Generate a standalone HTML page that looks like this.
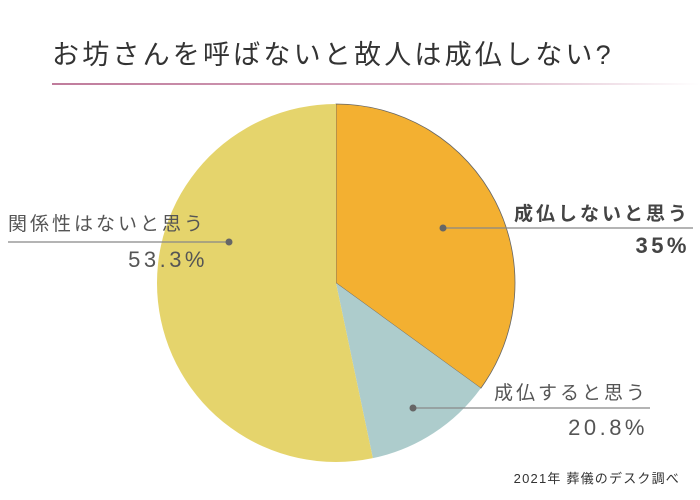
<!DOCTYPE html>
<html><head><meta charset="utf-8">
<style>
body{margin:0;background:#fff;}
svg{display:block;font-family:"Liberation Sans","Noto Sans CJK JP",sans-serif;}
</style></head>
<body>
<svg id="chart" width="700" height="500" viewBox="0 0 700 500">
<defs><linearGradient id="rule" x1="0" x2="1"><stop offset="0" stop-color="#c07c9c"/><stop offset="0.6" stop-color="#d6a8be"/><stop offset="1" stop-color="#fff"/></linearGradient></defs>
<text x="52" y="64" font-size="27" letter-spacing="3.2" fill="#333">お坊さんを呼ばないと故人は成仏しない?</text>
<rect x="52" y="83" width="648" height="2" fill="url(#rule)"/>
<g id="slices"></g>
<g id="labels"></g>
<text x="680" y="483" font-size="13" letter-spacing="1.2" fill="#333" text-anchor="end">2021年 葬儀のデスク調べ</text>
</svg>
<script>
const categories = ["成仏しないと思う", "成仏すると思う", "関係性はないと思う"];
const values = [35, 11.7, 53.3];
const valueLabels = ["35%", "20.8%", "53.3%"];
const colors = ["#f3b031", "#adcccc", "#e5d46c"];
const cx = 336, cy = 283, r = 179;
const NS = "http://www.w3.org/2000/svg";
const total = values.reduce((a,b)=>a+b,0);
function pt(a, rr){ return [cx + rr*Math.sin(a), cy - rr*Math.cos(a)]; }
let start = 0;
const sg = document.getElementById('slices');
values.forEach((v,i)=>{
  const end = start + v/total*2*Math.PI;
  const [x1,y1] = pt(start,r), [x2,y2] = pt(end,r);
  const p = document.createElementNS(NS,'path');
  p.setAttribute('d',`M${cx},${cy}L${x1},${y1}A${r},${r} 0 ${end-start>Math.PI?1:0} 1 ${x2},${y2}Z`);
  p.setAttribute('fill',colors[i]);
  p.setAttribute('stroke', i===0 ? '#666' : 'none');
  p.setAttribute('stroke-width','0.8');
  
  
  sg.appendChild(p);
  start = end;
});
const lg = document.getElementById('labels');
const layout = [
  {dot:[443,228], x1:443, x2:693, ty:220, vy:253, tx:690, bold:true, col:"#444"},
  {dot:[413,408], x1:413, x2:650, ty:399, vy:435, tx:648, bold:false, col:"#555"},
  {dot:[229,242], x1:8, x2:229, ty:230, vy:267, tx:null, bold:false, col:"#555"}
];
layout.forEach((L,i)=>{
  const ln = document.createElementNS(NS,'line');
  ln.setAttribute('x1',L.x1); ln.setAttribute('x2',L.x2);
  ln.setAttribute('y1',L.dot[1]); ln.setAttribute('y2',L.dot[1]);
  ln.setAttribute('stroke','#888'); ln.setAttribute('stroke-width','1.2');
  
  
  lg.appendChild(ln);
  const c = document.createElementNS(NS,'circle');
  c.setAttribute('cx',L.dot[0]); c.setAttribute('cy',L.dot[1]); c.setAttribute('r','3.5'); c.setAttribute('fill','#666');
  
  
  lg.appendChild(c);
  const t = document.createElementNS(NS,'text');
  t.textContent = categories[i];
  if(L.tx===null){ t.setAttribute('x',8); } else { t.setAttribute('x',L.tx); t.setAttribute('text-anchor','end'); }
  t.setAttribute('y',L.ty); t.setAttribute('font-size',19); t.setAttribute('fill',L.col);
  t.setAttribute('letter-spacing','3');
  if(L.bold) t.setAttribute('font-weight','bold');
  
  
  lg.appendChild(t);
  const vt = document.createElementNS(NS,'text');
  vt.textContent = valueLabels[i];
  vt.setAttribute('x', L.tx===null ? 208 : L.tx); vt.setAttribute('text-anchor','end');
  vt.setAttribute('y',L.vy); vt.setAttribute('font-size',22); vt.setAttribute('fill',L.col);
  vt.setAttribute('letter-spacing','3.5');
  if(L.bold) vt.setAttribute('font-weight','bold');
  
  
  lg.appendChild(vt);
});
</script>
</body></html>
